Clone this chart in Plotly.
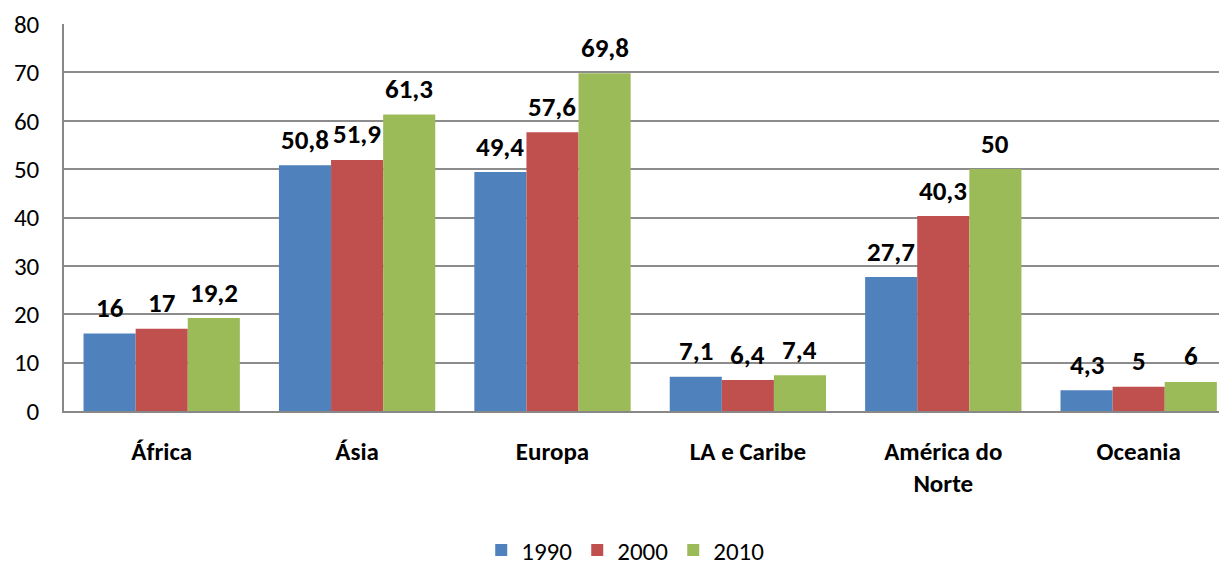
import plotly.graph_objects as go

categories = ["África", "Ásia", "Europa", "LA e Caribe", "América do<br>Norte", "Oceania"]
years = ["1990", "2000", "2010"]
v1990 = [16, 50.8, 49.4, 7.1, 27.7, 4.3]
v2000 = [17, 51.9, 57.6, 6.4, 40.3, 5]
v2010 = [19.2, 61.3, 69.8, 7.4, 50, 6]
colors = ["#4F81BD", "#C0504D", "#9BBB59"]
y_ticks = [0, 10, 20, 30, 40, 50, 60, 70, 80]

series = [v1990, v2000, v2010]
font = "Carlito, Lato, 'Open Sans', sans-serif"

def fmt(v):
    s = ("%g" % v)
    return s.replace(".", ",")

fig = go.Figure()
for name, vals, col in zip(years, series, colors):
    fig.add_trace(go.Bar(
        name=name, x=list(range(len(categories))), y=vals,
        marker=dict(color=col, line=dict(width=0)),
        text=[fmt(v) for v in vals], textposition="none",
        hoverinfo="skip",
    ))

n = len(years)
group_w = 0.8
bw = group_w / n
for i, vals in enumerate(series):
    for j, v in enumerate(vals):
        xpos = j - group_w / 2 + bw * (i + 0.5)
        fig.add_annotation(
            x=xpos, y=v, xref="x", yref="y", text="<b>%s</b>" % fmt(v),
            showarrow=False, yshift=26, yanchor="middle",
            font=dict(size=27, color="#000000", family=font),
        )

fig.update_layout(
    width=1227, height=565,
    barmode="group", bargap=0.2, bargroupgap=0,
    plot_bgcolor="white", paper_bgcolor="white",
    margin=dict(l=56, r=8, t=16, b=162, autoexpand=False),
    font=dict(family=font, size=24, color="#000000"),
    legend=dict(orientation="h", x=0.483, xanchor="center", y=-0.36, yanchor="middle",
                font=dict(size=25), traceorder="normal", itemwidth=30),
    showlegend=True,
)
fig.update_xaxes(
    range=[-0.5, 5.452],
    tickmode="array", tickvals=list(range(len(categories))),
    ticktext=["<b>%s</b>" % c for c in categories],
    tickfont=dict(size=25, family=font),
    showline=True, linecolor="#888888", linewidth=1.5,
    showgrid=False, ticks="", ticklabelstandoff=17, automargin=False,
)
fig.update_yaxes(
    range=[0, 80], tickvals=y_ticks,
    tickfont=dict(size=25, family=font),
    showline=True, linecolor="#888888", linewidth=1.5,
    showgrid=True, gridcolor="#8c8c8c", gridwidth=1.5,
    ticks="", ticklabelstandoff=18, zeroline=False, automargin=False,
)

fig.write_html("out.html")
